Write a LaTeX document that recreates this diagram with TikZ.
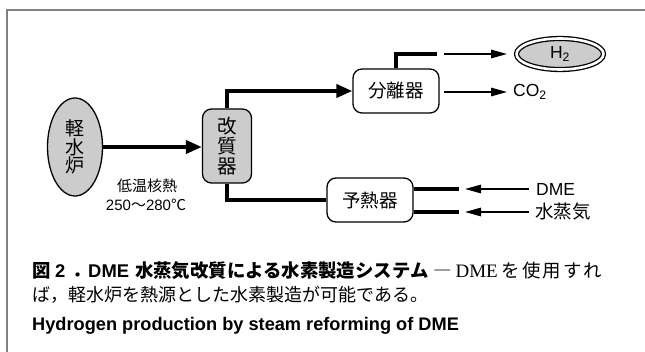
\documentclass[tikz,border=0pt]{standalone}
\usepackage{fontspec}
\setmainfont{Liberation Sans}
\newfontfamily\jp{Noto Sans CJK JP}
\newfontfamily\serifl{Liberation Serif}
\usetikzlibrary{arrows.meta,shapes.geometric,calc}
\tikzset{
  thickline/.style={line width=3.8pt},
  thickarrow/.style={line width=3.8pt,-{Triangle[length=16pt,width=13pt]}},
  thinarrow/.style={line width=1.4pt,-{Triangle[length=16pt,width=8.5pt]}},
  grayfill/.style={fill=black!20},
  procbox/.style={draw,line width=1.3pt,rounded corners=9pt,minimum width=86pt,minimum height=44pt,inner sep=0pt,fill=white},
  lbl/.style={inner sep=0pt,font=\fontsize{17.5}{20}\selectfont},
  jplbl/.style={inner sep=0pt,font=\jp\fontsize{18.5}{20}\selectfont},
  captxt/.style={inner sep=0pt,anchor=west}
}
\newcommand{\jpb}{\jp\bfseries}
\begin{document}
\begin{tikzpicture}[x=1pt,y=-1pt]
\useasboundingbox (0,0) rectangle (645,352);
% frame
\draw[black!50,line width=1.5pt] (7,352) -- (7,10) -- (645,10);
% nodes
\node[draw,ellipse,grayfill,line width=1.3pt,minimum width=55pt,minimum height=98pt,inner sep=0pt,align=center,font=\jp\fontsize{19}{18.5}\selectfont] (lwr) at (75,147) {軽\\水\\炉};
\node[draw,grayfill,line width=1.3pt,rounded corners=9pt,minimum width=49pt,minimum height=74pt,inner sep=0pt,align=center,font=\jp\fontsize{19.5}{20}\selectfont] (ref) at (227,146) {改\\質\\器};
\node[procbox,font=\jp\fontsize{18.5}{20}\selectfont] (sep) at (396,91) {分離器};
\node[procbox,font=\jp\fontsize{18.5}{20}\selectfont] (pre) at (370,200) {予熱器};
\node[draw,ellipse,fill=black!20,line width=1.3pt,double=white,double distance=2.6pt,minimum width=87pt,minimum height=31pt,inner sep=0pt,font=\fontsize{17.5}{20}\selectfont] (h2) at (560,54) {H\textsubscript{2}};
\node[lbl,anchor=west] (co2) at (513,92) {CO\textsubscript{2}};
\node[lbl,anchor=west] (dme) at (536,189) {DME};
\node[jplbl,anchor=west] (stm) at (535,212) {水蒸気};
\node[inner sep=0pt,font=\jp\fontsize{15}{17}\selectfont] (heat1) at (147,186) {低温核熱};
\node[inner sep=0pt,font=\fontsize{15}{17}\selectfont] (heat2) at (146,205) {250{\jp 〜}280{\jp ℃}};
% coordinates
\coordinate (h2end) at (437,54);
\coordinate (h2a) at (444,54);
\coordinate (h2t) at (507,54);
\coordinate (co2a) at (444,92);
\coordinate (co2t) at (507,92);
\coordinate (d1) at (459,189);
\coordinate (d2) at (459,212);
\coordinate (d1t) at (465,189);
\coordinate (d2t) at (465,212);
\coordinate (d1s) at (529,189);
\coordinate (d2s) at (529,212);
% connectors
\draw[thickarrow] (lwr.east |- 0,147) -- (ref.west |- 0,147);
\draw[thickarrow] (ref.north) |- (sep.west);
\draw[thickline] (sep.north) |- (h2end);
\draw[thinarrow] (h2a) -- (h2t);
\draw[thinarrow] (co2a) -- (co2t);
\draw[thickline] (ref.south) |- (pre.west);
\draw[thickline] (pre.east |- d1) -- (d1);
\draw[thickline] (pre.east |- d2) -- (d2);
\draw[thinarrow] (d1s) -- (d1t);
\draw[thinarrow] (d2s) -- (d2t);
% caption
\node[captxt] (cap1) at (32,271) {\fontsize{18.4}{20}\selectfont{\jpb 図}\hspace{4.6pt}\textbf{2}\hspace{6.8pt}{\jpb ．}\hspace{-2.4pt}\textbf{DME}\hspace{6pt}{\jpb 水蒸気改質による水素製造システム}\hspace{5pt}{\jp ―}\hspace{3.8pt}{\serifl\fontsize{19}{20}\selectfont DME}\hspace{4pt}{\jp を\hspace{2pt}使\hspace{2pt}用\hspace{2pt}す\hspace{2pt}れ}};
\node[captxt] (cap2) at (32,295) {\fontsize{18}{20}\selectfont{\jp ば，軽水炉を熱源とした水素製造が可能である。}};
\node[captxt] (cap3) at (32,326) {\fontsize{18.2}{20}\selectfont\bfseries Hydrogen production by steam reforming of DME};
\end{tikzpicture}
\end{document}
